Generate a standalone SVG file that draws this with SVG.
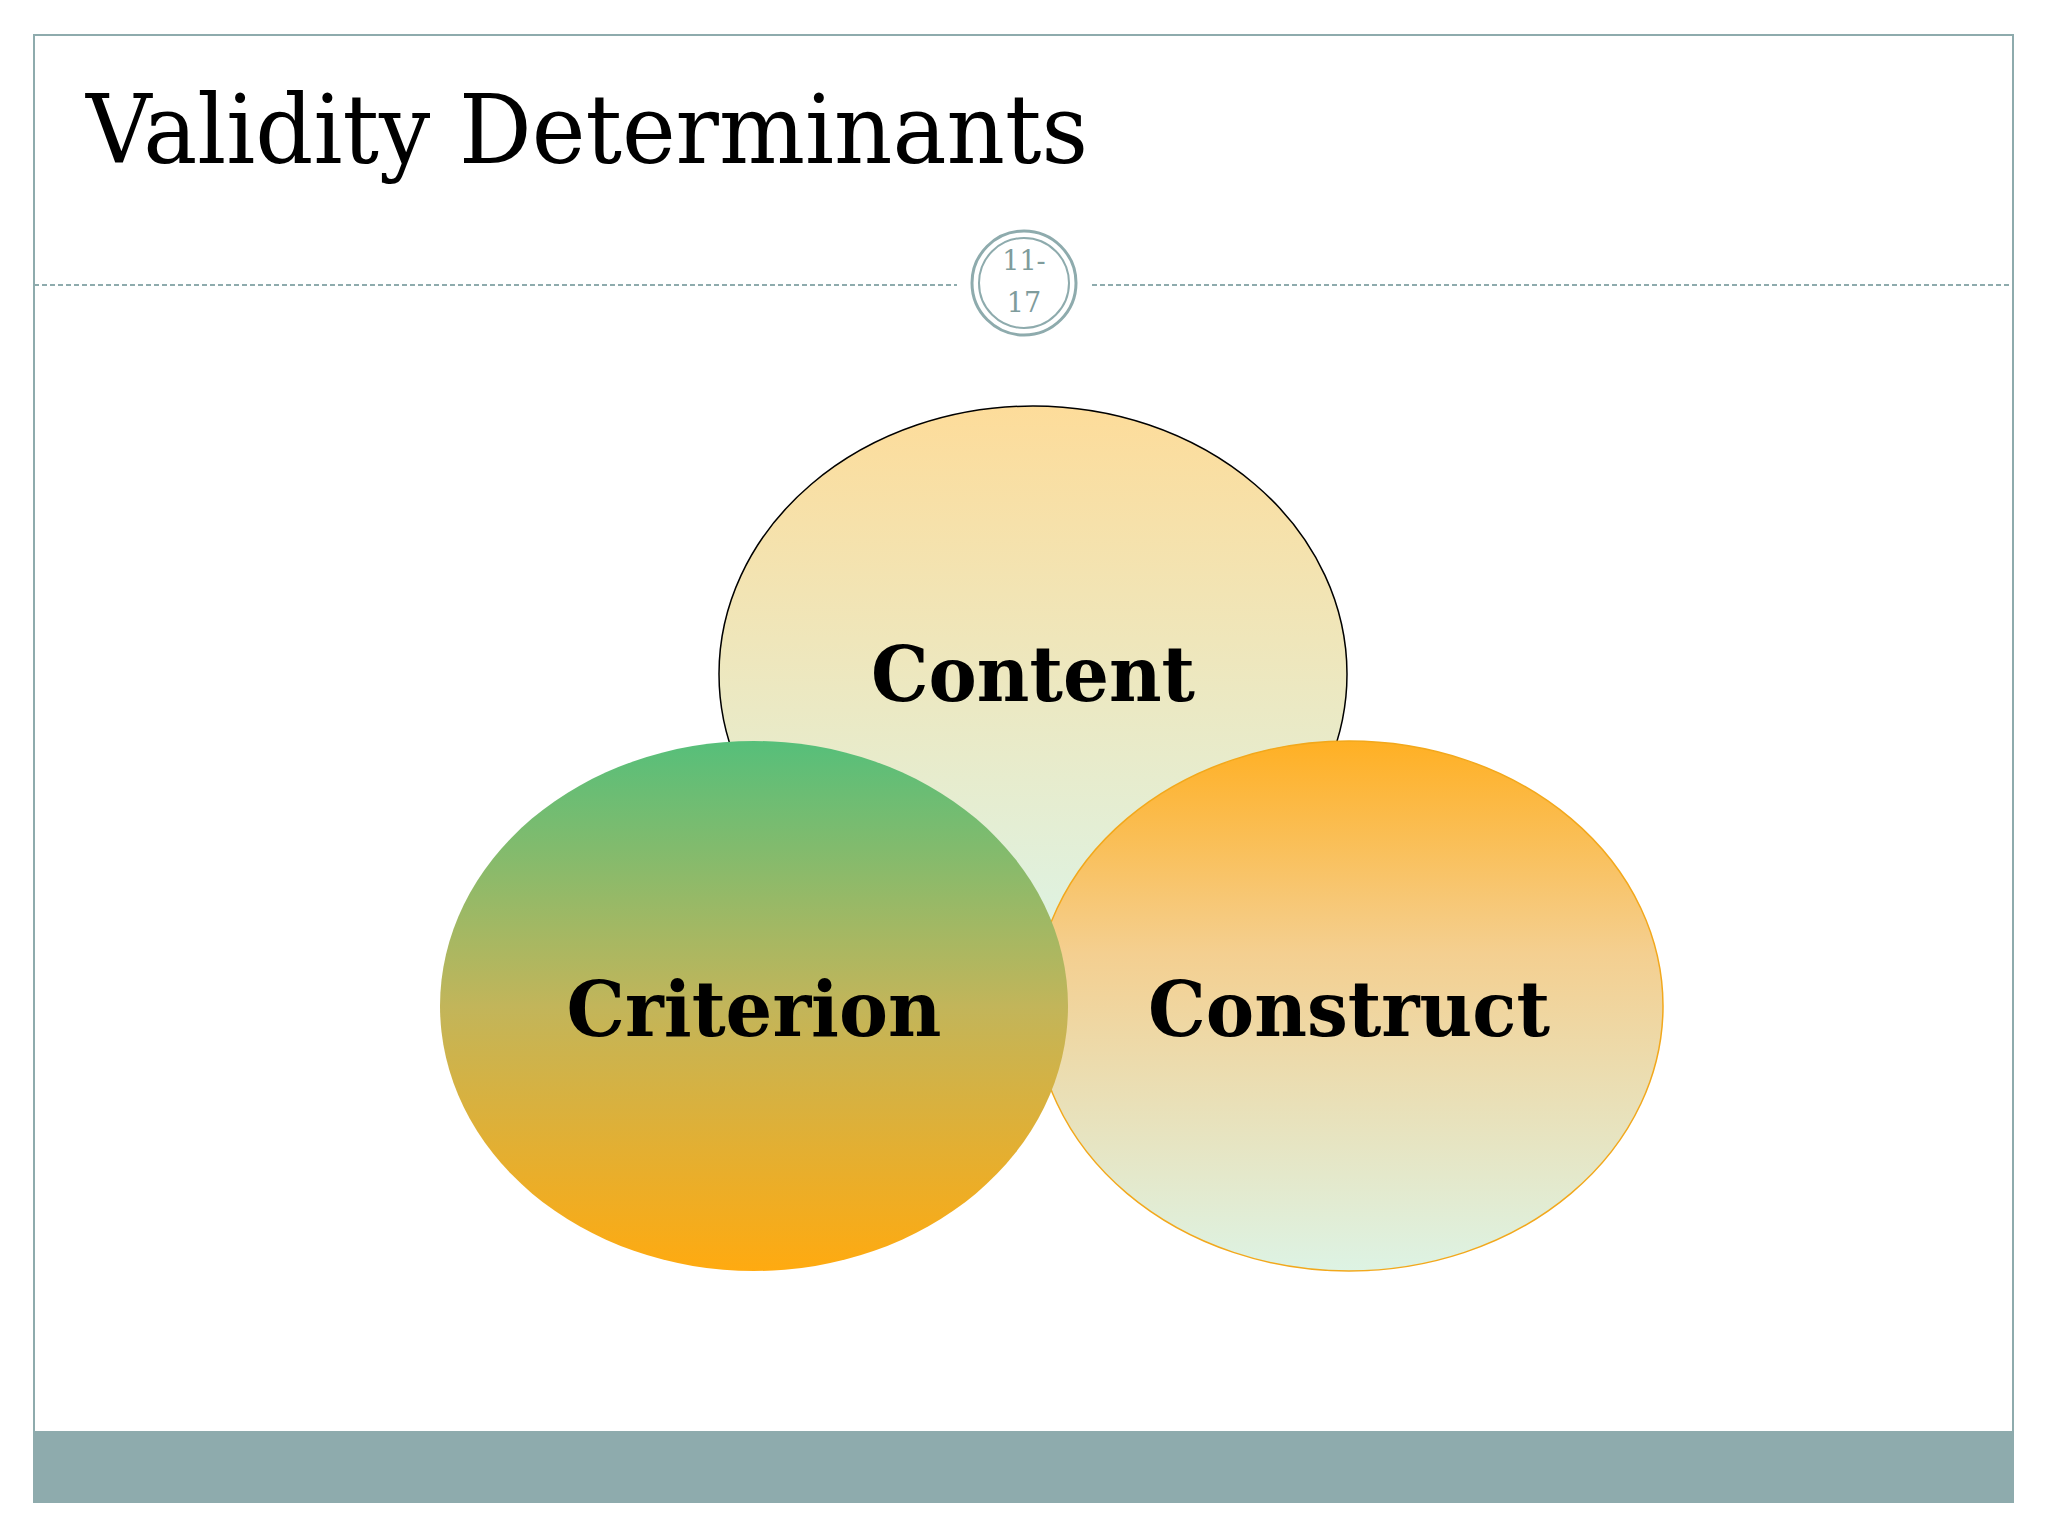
<svg xmlns="http://www.w3.org/2000/svg" width="2048" height="1536" viewBox="0 0 2048 1536">
<defs>
<linearGradient id="gContent" x1="0" y1="0" x2="0" y2="1"><stop offset="0" stop-color="#FDDC9A"/><stop offset="1" stop-color="#DDF3E4"/></linearGradient>
<linearGradient id="gCriterion" x1="0" y1="0" x2="0" y2="1"><stop offset="0" stop-color="#56BF7A"/><stop offset="0.5" stop-color="#C2B55A"/><stop offset="1" stop-color="#FFAA10"/></linearGradient>
<linearGradient id="gConstruct" x1="0" y1="0" x2="0" y2="1"><stop offset="0" stop-color="#FFB024"/><stop offset="0.4" stop-color="#F4CF90"/><stop offset="1" stop-color="#DDF3E4"/></linearGradient>
<style>
.lbl{font-family:"DejaVu Serif",serif;font-weight:bold;font-size:76px;fill:#000;text-anchor:middle}
.num{font-family:"DejaVu Serif",serif;font-size:27px;fill:#7F9C9C;text-anchor:middle}
</style>
</defs>
<rect width="2048" height="1536" fill="#fff"/>
<rect x="34" y="35" width="1979" height="1467" fill="none" stroke="#8EABAD" stroke-width="2"/>
<rect x="34" y="1431" width="1979" height="71" fill="#8EABAD"/>
<text x="86" y="163" font-family="DejaVu Serif,serif" font-size="96" fill="#000" textLength="1002" lengthAdjust="spacingAndGlyphs">Validity Determinants</text>
<line x1="34" y1="285" x2="957" y2="285" stroke="#8EABAD" stroke-width="2" stroke-dasharray="5,3"/>
<line x1="1092" y1="285" x2="2013" y2="285" stroke="#8EABAD" stroke-width="2" stroke-dasharray="5,3"/>
<g id="pagenum">
<circle cx="1024" cy="283" r="52" fill="#fff" stroke="#8EABAD" stroke-width="3"/>
<circle cx="1024" cy="283" r="45" fill="none" stroke="#8EABAD" stroke-width="2"/>
<text class="num" x="1024" y="270">11-</text>
<text class="num" x="1024" y="312">17</text>
</g>
<g id="content"><ellipse cx="1033" cy="674" rx="314" ry="268" fill="url(#gContent)" stroke="#000" stroke-width="1.5"/><text class="lbl" x="1033" y="701" textLength="324" lengthAdjust="spacingAndGlyphs">Content</text></g>
<g id="construct"><ellipse cx="1349" cy="1006" rx="314" ry="265" fill="url(#gConstruct)" stroke="#F2A81C" stroke-width="1.5"/><text class="lbl" x="1349" y="1036" textLength="402" lengthAdjust="spacingAndGlyphs">Construct</text></g>
<g id="criterion"><ellipse cx="754" cy="1006" rx="314" ry="265" fill="url(#gCriterion)"/><text class="lbl" x="754" y="1036" textLength="375" lengthAdjust="spacingAndGlyphs">Criterion</text></g>
<g id="connectors"/>
</svg>
